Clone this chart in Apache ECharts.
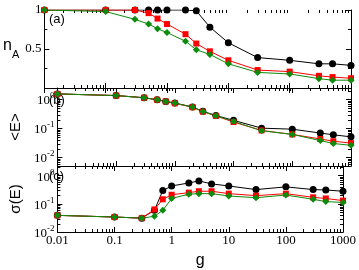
<!DOCTYPE html>
<html>
<head>
<meta charset="utf-8">
<script src="https://cdn.jsdelivr.net/npm/echarts@6/dist/echarts.min.js"></script>
<style>
html,body{margin:0;padding:0;background:#fff}
#chart{width:359px;height:270px}
</style>
</head>
<body>
<div id="chart"></div>
<script>
// x values (coupling g)
let gValues = [0.01, 0.1, 0.3, 0.5, 0.7, 1, 2, 3, 5, 10, 30, 100, 300, 500, 1000]

// panel (a) n_A
let nA_black = [1, 1, 1, 1, 1, 1, 1, 0.99, 0.78, 0.58, 0.39, 0.355, 0.31, 0.31, 0.29]
let nA_red = [1, 1, 1, 0.96, 0.89, 0.82, 0.69, 0.57, 0.47, 0.355, 0.23, 0.21, 0.156, 0.14, 0.125]
let nA_green = [1, 0.98, 0.88, 0.82, 0.76, 0.71, 0.60, 0.49, 0.43, 0.31, 0.20, 0.18, 0.12, 0.10, 0.10]

// panel (b) <E>
let E_black = [1.56, 1.37, 1.15, 0.98, 0.86, 0.75, 0.55, 0.39, 0.28, 0.19, 0.102, 0.094, 0.069, 0.06, 0.051]
let E_red = [1.56, 1.37, 1.15, 0.98, 0.86, 0.74, 0.54, 0.38, 0.27, 0.166, 0.085, 0.062, 0.043, 0.036, 0.031]
let E_green = [1.56, 1.37, 1.15, 0.98, 0.86, 0.75, 0.55, 0.385, 0.275, 0.175, 0.083, 0.062, 0.038, 0.030, 0.026]

// panel (c) sigma(E)
let sig_black = [0.039, 0.034, 0.031, 0.059, 0.295, 0.43, 0.55, 0.65, 0.51, 0.43, 0.32, 0.40, 0.32, 0.31, 0.28]
let sig_red = [0.039, 0.034, 0.031, 0.063, 0.145, 0.21, 0.25, 0.28, 0.28, 0.23, 0.195, 0.23, 0.17, 0.155, 0.13]
let sig_green = [0.039, 0.034, 0.031, 0.036, 0.059, 0.155, 0.22, 0.23, 0.23, 0.19, 0.165, 0.205, 0.145, 0.12, 0.112]

let panelLabels = ["(a)", "(b)", "(c)"]
let xDecades = [0.01, 0.1, 1, 10, 100]
let minorMults = [2, 3, 4, 5, 6, 7, 8, 9]

const SERIF = "Liberation Serif"
const SANS = "Liberation Sans"
const GREEN = "#0b8c0b"

function zip(ys){
    return gValues.map((g, i) => [g, ys[i]])
}

function supLabel(v){
    const e = Math.round(Math.log10(v))
    return "{b|10}{s|" + e + "}"
}

const supRich = {
    b: { fontFamily: SERIF, fontSize: 13, color: "#000", lineHeight: 16, verticalAlign: "bottom" },
    s: { fontFamily: SERIF, fontSize: 9, color: "#000", lineHeight: 10, verticalAlign: "top" }
}

const grids = [
    { left: 40, right: 8, top: 10, height: 78 },
    { left: 40, right: 8, top: 88, height: 78 },
    { left: 40, right: 8, top: 166, height: 77 }
]

function xAxisFor(i, top){
    return {
        type: "log", logBase: 10, min: 0.01, max: 1000,
        gridIndex: i,
        position: top ? "top" : "bottom",
        axisLine: { lineStyle: { color: "#000", width: 1 } },
        axisTick: { inside: true, length: 5, lineStyle: { color: "#000" } },
        splitLine: { show: false },
        axisLabel: {
            show: !top && i === 2,
            margin: 2,
            fontFamily: SERIF, fontSize: 13, color: "#000",
            formatter: v => String(v)
        },
        name: (!top && i === 2) ? "g" : "",
        nameLocation: "middle",
        nameGap: 21,
        nameTextStyle: { fontFamily: SANS, fontSize: 16, color: "#000" }
    }
}

function logYAxis(i, right, min, max, name){
    return {
        type: "log", logBase: 10, min: min, max: max,
        gridIndex: i,
        position: right ? "right" : "left",
        axisLine: { lineStyle: { color: "#000", width: 1 } },
        axisTick: { inside: true, length: 5, lineStyle: { color: "#000" } },
        splitLine: { show: false },
        axisLabel: {
            show: !right,
            margin: 3,
            showMinLabel: i === 2,
            showMaxLabel: false,
            formatter: supLabel,
            rich: supRich
        },
        name: right ? "" : name,
        nameLocation: "middle",
        nameRotate: 90,
        nameGap: 24,
        nameTextStyle: { fontFamily: SANS, fontSize: 15, color: "#000" }
    }
}

function linYAxis(right){
    return {
        type: "value", min: 0, max: 1, interval: 0.5,
        gridIndex: 0,
        position: right ? "right" : "left",
        axisLine: { lineStyle: { color: "#000", width: 1 } },
        axisTick: { inside: true, length: 5, lineStyle: { color: "#000" } },
        minorTick: { show: true, splitNumber: 2, length: 3, lineStyle: { color: "#000" } },
        splitLine: { show: false },
        axisLabel: {
            show: !right,
            margin: 3,
            showMinLabel: false,
            fontFamily: SERIF, fontSize: 13, color: "#000"
        },
        name: right ? "" : "{n|n}{a|A}",
        nameLocation: "middle",
        nameRotate: 0,
        nameGap: 18,
        nameTextStyle: {
            rich: {
                n: { fontFamily: SANS, fontSize: 16, color: "#000", lineHeight: 18, verticalAlign: "top" },
                a: { fontFamily: SANS, fontSize: 11, color: "#000", lineHeight: 22, verticalAlign: "bottom" }
            }
        }
    }
}

// minor ticks of the log axes (x on every panel, y on panels b and c)
function minorData(panel){
    const out = []
    const yRef = panel === 0 ? 0.5 : 0.1
    xDecades.forEach(d => minorMults.forEach(m => out.push([d * m, yRef, 0])))
    if (panel > 0) {
        const decs = panel === 1 ? [0.001, 0.01, 0.1, 1] : [0.01, 0.1, 1]
        const ext = panel === 1 ? [0.005, 2.5] : [0.01, 2.2]
        decs.forEach(d => minorMults.forEach(m => {
            const v = d * m
            if (v > ext[0] && v < ext[1]) out.push([1, v, 1])
        }))
    }
    return out
}

function renderMinor(params, api){
    const cs = params.coordSys
    const p = api.coord([api.value(0), api.value(1)])
    const st = { stroke: "#000", lineWidth: 1 }
    if (api.value(2) === 0) {
        const x = Math.round(p[0]) + 0.5
        return { type: "group", children: [
            { type: "line", shape: { x1: x, y1: cs.y + cs.height, x2: x, y2: cs.y + cs.height - 3 }, style: st },
            { type: "line", shape: { x1: x, y1: cs.y, x2: x, y2: cs.y + 3 }, style: st }
        ] }
    }
    const y = Math.round(p[1]) + 0.5
    return { type: "group", children: [
        { type: "line", shape: { x1: cs.x, y1: y, x2: cs.x + 3, y2: y }, style: st },
        { type: "line", shape: { x1: cs.x + cs.width, y1: y, x2: cs.x + cs.width - 3, y2: y }, style: st }
    ] }
}

function lineSeries(i, ys, color, symbol, size){
    return {
        type: "line",
        xAxisIndex: i, yAxisIndex: i,
        data: zip(ys),
        symbol: symbol,
        symbolSize: size,
        showSymbol: true,
        animation: false,
        lineStyle: { color: color, width: 1 },
        itemStyle: { color: color, borderWidth: 0 }
    }
}

const series = []
const sets = [[nA_black, nA_red, nA_green], [E_black, E_red, E_green], [sig_black, sig_red, sig_green]]
sets.forEach((s, i) => {
    series.push(lineSeries(i, s[0], "#000", "circle", 7))
    series.push(lineSeries(i, s[1], "#ff0000", "rect", 6))
    series.push(lineSeries(i, s[2], GREEN, "diamond", 7))
    series.push({
        type: "custom", xAxisIndex: i, yAxisIndex: i,
        data: minorData(i), renderItem: renderMinor,
        silent: true, animation: false, z: 1
    })
})

const chart = echarts.init(document.getElementById("chart"))
chart.setOption({
    animation: false,
    backgroundColor: "#fff",
    grid: grids,
    xAxis: [xAxisFor(0, false), xAxisFor(1, false), xAxisFor(2, false), xAxisFor(0, true), xAxisFor(1, true), xAxisFor(2, true)],
    yAxis: [
        linYAxis(false),
        logYAxis(1, false, 0.005, 2.5, "<E>"),
        logYAxis(2, false, 0.01, 2.2, "σ(E)"),
        linYAxis(true),
        logYAxis(1, true, 0.005, 2.5, ""),
        logYAxis(2, true, 0.01, 2.2, "")
    ],
    series: series,
    graphic: panelLabels.map((t, i) => ({
        type: "text",
        left: 49,
        top: [13, 94, 170][i],
        style: { text: t, fontFamily: SANS, fontSize: 13, fill: "#000" }
    }))
})
</script>
</body>
</html>
